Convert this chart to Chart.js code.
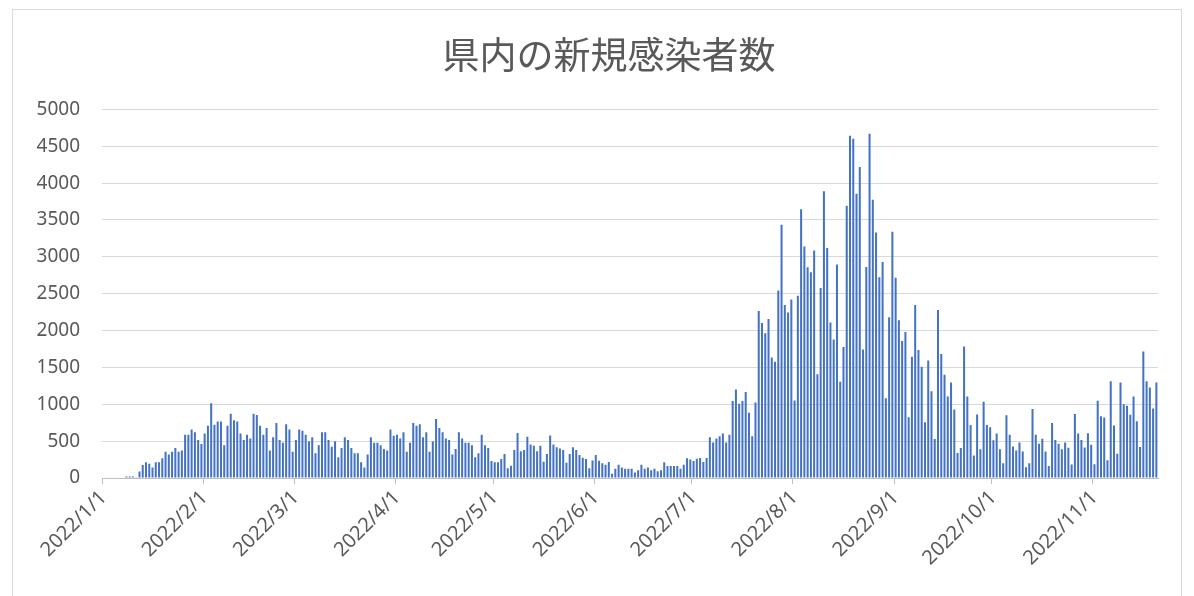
<!DOCTYPE html>
<html>
<head>
<meta charset="utf-8">
<script src="https://cdn.jsdelivr.net/npm/chart.js@4"></script>
<style>
    html, body { margin: 0; padding: 0; background: #ffffff; }
    #wrap { position: relative; width: 1194px; height: 596px; overflow: hidden; }
    #frame { position: absolute; left: 12px; top: 9px; width: 1170px; height: 640px; border: 1px solid #d9d9d9; box-sizing: border-box; }
    #myChart { position: absolute; left: 0; top: 0; }
</style>
</head>
<body>
<div id="wrap">
    <div id="frame"></div>
    <canvas id="myChart" width="1194" height="596"></canvas>
</div>
<script>
// daily new cases per month
const jan = [0, 0, 0, 0, 0, 0, 0, 20, 20, 20, 10, 88, 175, 212, 194, 143, 212, 212, 267, 355, 318, 355, 406, 355, 373, 585, 585, 659, 622, 516, 461];
const feb = [604, 710, 1014, 724, 765, 765, 443, 710, 871, 784, 765, 604, 516, 585, 535, 871, 853, 710, 585, 678, 373, 553, 747, 516, 479, 728, 659, 355];
const mar = [516, 659, 641, 585, 498, 553, 336, 443, 622, 622, 516, 424, 498, 281, 406, 553, 516, 406, 336, 336, 212, 143, 318, 553, 479, 479, 443, 392, 373, 659, 572];
const apr = [585, 535, 622, 355, 479, 747, 710, 728, 553, 622, 355, 498, 802, 678, 622, 535, 516, 318, 392, 622, 535, 479, 479, 443, 281, 336, 585, 443, 406, 230];
const may = [215, 215, 257, 326, 133, 165, 381, 610, 363, 381, 560, 454, 436, 363, 436, 220, 326, 578, 454, 418, 399, 381, 207, 326, 418, 381, 312, 275, 257, 133, 239];
const jun = [311, 235, 199, 181, 218, 56, 125, 181, 144, 125, 125, 125, 74, 106, 181, 125, 144, 106, 125, 93, 106, 213, 162, 162, 162, 162, 125, 181, 269, 250];
const jul = [231, 260, 272, 218, 272, 553, 481, 535, 567, 603, 481, 585, 1043, 1201, 1006, 1043, 1165, 884, 567, 1024, 2267, 2103, 1963, 2158, 1636, 1577, 2543, 3436, 2348, 2244, 2421];
const aug = [1050, 2473, 3647, 3139, 2858, 2790, 3085, 1409, 2578, 3891, 3121, 2111, 1880, 2895, 1305, 1776, 3694, 4643, 4602, 3855, 4217, 1744, 2863, 4670, 3773, 3330, 2723, 2931, 1083, 2179, 3340];
const sep = [2716, 2140, 1857, 1980, 824, 1644, 2347, 1735, 1508, 756, 1595, 1178, 530, 2279, 1681, 1400, 1105, 1296, 929, 340, 408, 1785, 1105, 720, 304, 861, 390, 1033, 720, 688];
const oct = [513, 605, 391, 200, 851, 587, 428, 373, 482, 359, 146, 200, 937, 587, 464, 532, 359, 164, 746, 514, 464, 391, 482, 410, 182, 869, 605, 514, 415, 608, 451];
const nov = [187, 1049, 839, 821, 242, 1313, 711, 328, 1295, 999, 980, 857, 1104, 771, 420, 1715, 1313, 1227, 944, 1295];

const months = [jan, feb, mar, apr, may, jun, jul, aug, sep, oct, nov];
const monthTickLabels = ['2022/1/1', '2022/2/1', '2022/3/1', '2022/4/1', '2022/5/1', '2022/6/1',
    '2022/7/1', '2022/8/1', '2022/9/1', '2022/10/1', '2022/11/1'];

const labels = [];
const values = [];
months.forEach((arr, m) => {
    arr.forEach((v, d) => {
        labels.push(`2022/${m + 1}/${d + 1}`);
        values.push(v);
    });
});

const textColor = '#595959';
const gridColor = '#d9d9d9';

function isMonthTick(i) {
    return i >= 0 && i < labels.length && monthTickLabels.includes(labels[i]);
}

const ctx = document.getElementById('myChart').getContext('2d');
new Chart(ctx, {
    type: 'bar',
    data: {
        labels: labels,
        datasets: [{
            label: '新規感染者数',
            data: values,
            backgroundColor: '#4472C4',
            borderWidth: 0,
            barPercentage: 0.62,
            categoryPercentage: 1.0,
        }]
    },
    options: {
        responsive: false,
        animation: false,
        // left/right padding + blank right axis keep the title centred like the original
        layout: { padding: { left: 34, right: 10, top: 0, bottom: 0 } },
        plugins: {
            legend: { display: false },
            tooltip: { enabled: false },
            title: {
                display: true,
                text: '県内の新規感染者数',
                color: textColor,
                font: { family: '"Noto Sans CJK JP"', size: 37, weight: 'normal' },
                padding: { top: 33, bottom: 32 }
            }
        },
        scales: {
            x: {
                afterFit: (scale) => { scale.height = 118; },
                grid: {
                    display: true,
                    drawOnChartArea: false,
                    drawTicks: true,
                    tickLength: 6,
                    color: (c) => isMonthTick(c.index) ? '#bfbfbf' : 'rgba(0,0,0,0)',
                },
                border: { display: true, color: '#bfbfbf' },
                ticks: {
                    autoSkip: false,
                    maxRotation: 45,
                    minRotation: 45,
                    padding: 2,
                    color: textColor,
                    font: { family: '"Noto Sans"', size: 20 },
                    callback: function(value, index) {
                        return isMonthTick(index) ? labels[index] : '';
                    }
                }
            },
            y: {
                min: 0,
                max: 5000,
                afterFit: (scale) => { scale.width = 68; },
                grid: { color: gridColor, drawTicks: false },
                border: { display: false },
                ticks: {
                    stepSize: 500,
                    padding: 22,
                    color: textColor,
                    font: { family: '"Noto Sans"', size: 19 },
                    callback: (v) => String(v)
                }
            },
            yRight: {
                position: 'right',
                afterFit: (scale) => { scale.width = 26; },
                grid: { display: false },
                border: { display: false },
                ticks: { display: false }
            }
        }
    }
});
</script>
</body>
</html>
